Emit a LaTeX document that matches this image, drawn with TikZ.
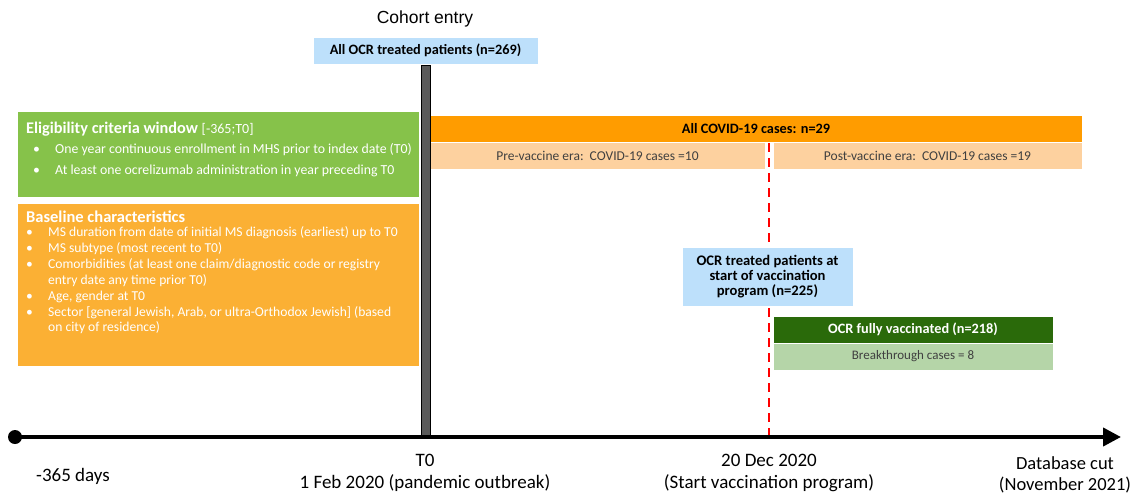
\documentclass[tikz,border=0pt]{standalone}
\usepackage{fontspec}
\setmainfont{Carlito}
\newfontfamily\arialf{Liberation Sans}
\usetikzlibrary{arrows.meta}
\definecolor{lblue}{HTML}{BDE0FB}
\definecolor{egreen}{HTML}{86C24A}
\definecolor{borange}{HTML}{FBB034}
\definecolor{covor}{HTML}{FF9C00}
\definecolor{peach}{HTML}{FDD19F}
\definecolor{dgreen}{HTML}{2A6A0A}
\definecolor{lgreen}{HTML}{B5D5A8}
\definecolor{barg}{HTML}{5A5A5A}
\definecolor{txtg}{HTML}{404040}
\tikzset{
  rbox/.style={anchor=north west, inner sep=0pt, outer sep=0pt, draw=white, line width=0.8pt},
  tl/.style={font=\fontsize{19}{22}\selectfont, align=center, text=black},
  whitetxt/.style={text=white, inner sep=0pt},
}
\begin{document}
\begin{tikzpicture}[x=1pt,y=-1pt]
\useasboundingbox (0,0) rectangle (1131,496);

% red dashed line (behind boxes)
\coordinate (redtop) at (769,143);
\coordinate (redbot) at (769,437);
\draw[red, line width=2.5pt, dash pattern=on 9pt off 6pt] (redtop) -- (redbot);

% cohort entry
\node[font=\arialf\fontsize{17.5}{20}\selectfont] (ce) at (425,19) {Cohort entry};
\node[rbox, fill=lblue, minimum width=225pt, minimum height=27pt] (all) at (313,37) {};
\node[font=\bfseries\fontsize{14.3}{17}\selectfont] at (all.center) {All OCR treated patients (n=269)};

% eligibility box
\node[rbox, fill=egreen, minimum width=402pt, minimum height=86pt] (elig) at (17,111) {};
\node[whitetxt, anchor=west, font=\bfseries\fontsize{16.3}{19}\selectfont] (eligt) at (26,129)
  {Eligibility criteria window {\mdseries\fontsize{14}{16}\selectfont [-365;T0]}};
\node[whitetxt, anchor=west, align=left, font=\fontsize{13.8}{21}\selectfont] (eligl) at (33,160.5)
  {\makebox[22pt][l]{\textbullet}One year continuous enrollment in MHS prior to index date (T0)\\
   \makebox[22pt][l]{\textbullet}At least one ocrelizumab administration in year preceding T0};

% baseline box
\node[rbox, fill=borange, minimum width=402pt, minimum height=163pt] (base) at (17,203) {};
\node[whitetxt, anchor=west, font=\bfseries\fontsize{16.5}{19}\selectfont] (baset) at (26,217) {Baseline characteristics};
\node[whitetxt, anchor=west, align=left, font=\fontsize{13.6}{15.85}\selectfont] (basel) at (26,280.5)
  {\makebox[22pt][l]{\textbullet}MS duration from date of initial MS diagnosis (earliest) up to T0\\
   \makebox[22pt][l]{\textbullet}MS subtype (most recent to T0)\\
   \makebox[22pt][l]{\textbullet}Comorbidities (at least one claim/diagnostic code or registry\\
   \hspace*{22pt}entry date any time prior T0)\\
   \makebox[22pt][l]{\textbullet}Age, gender at T0\\
   \makebox[22pt][l]{\textbullet}Sector [general Jewish, Arab, or ultra-Orthodox Jewish] (based\\
   \hspace*{22pt}on city of residence)};

% covid boxes
\node[rbox, fill=covor, minimum width=652pt, minimum height=27pt] (covid) at (430,115) {};
\node[font=\bfseries\fontsize{14.3}{16}\selectfont] at (covid.center) {All COVID-19 cases: n=29};
\node[rbox, fill=peach, minimum width=335pt, minimum height=27pt] (pre) at (430,142) {};
\node[text=txtg, font=\fontsize{13.5}{16}\selectfont] at (pre.center) {Pre-vaccine era:\ \ COVID-19 cases =10};
\node[rbox, fill=peach, minimum width=309pt, minimum height=27pt] (post) at (773,142) {};
\node[text=txtg, font=\fontsize{13.5}{16}\selectfont] at (post.center) {Post-vaccine era:\ \ COVID-19 cases =19};

% vaccination boxes
\node[rbox, fill=lblue, minimum width=171pt, minimum height=59pt] (start) at (682,247) {};
\node[align=center, font=\bfseries\fontsize{14.6}{15}\selectfont] at (start.center) {OCR treated patients at\\start of vaccination\\program (n=225)};
\node[rbox, fill=dgreen, minimum width=280pt, minimum height=27pt] (fully) at (773,316) {};
\node[text=white, font=\bfseries\fontsize{14.3}{16}\selectfont] at (fully.center) {OCR fully vaccinated (n=218)};
\node[rbox, fill=lgreen, minimum width=280pt, minimum height=27pt] (break) at (773,343) {};
\node[text=txtg, font=\fontsize{13}{16}\selectfont] at (break.center) {Breakthrough cases = 8};

% timeline
\coordinate (t0) at (15,437);
\coordinate (tend) at (1121,437);
\node[rbox, fill=barg, draw=black, minimum width=9pt, minimum height=372pt] (bar) at (421,65) {};
\draw[line width=4pt, -{Triangle[length=18pt,width=18pt]}] (t0) -- (tend);
\fill (t0) circle (7pt);

% labels
\node[tl] (lm) at (73,476) {-365 days};
\node[tl] (lt0) at (425,473) {T0\\1 Feb 2020 (pandemic outbreak)};
\node[tl] (ldec) at (769,473) {20 Dec 2020\\(Start vaccination program)};
\node[tl, font=\fontsize{18.5}{21}\selectfont] (ldb) at (1065,474.5) {Database cut\\(November 2021)};
\end{tikzpicture}
\end{document}
